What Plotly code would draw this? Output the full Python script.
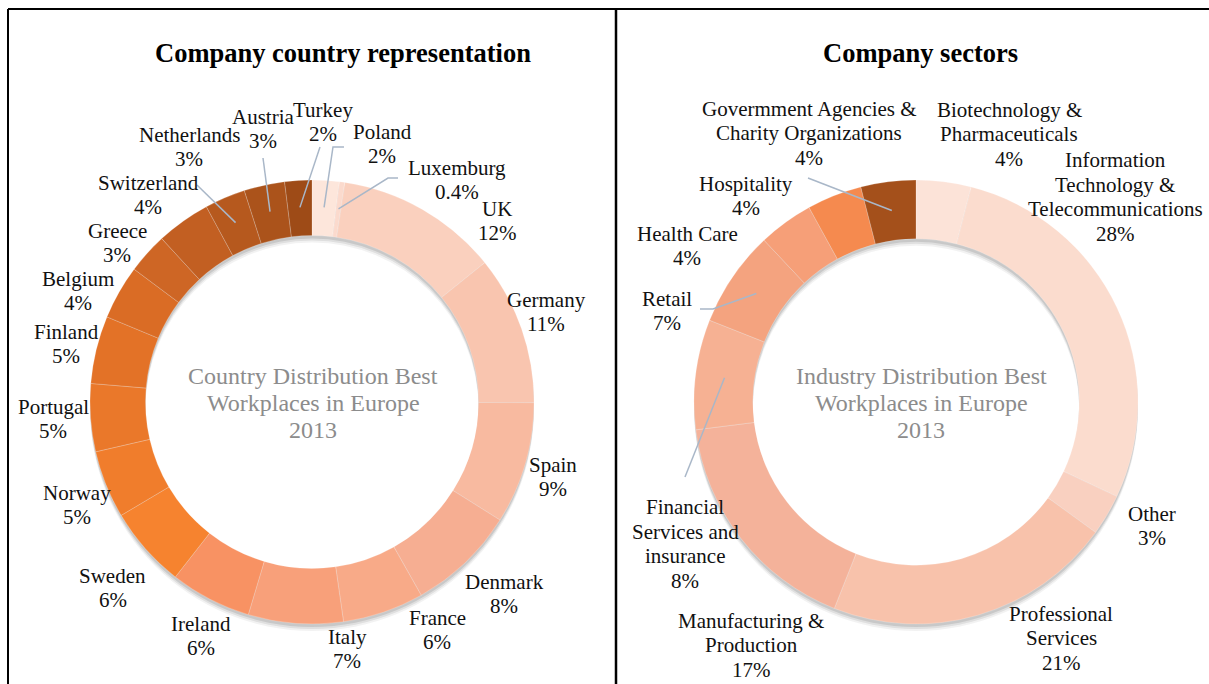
import math
import plotly.graph_objects as go

# ---- data -------------------------------------------------------------
countries = ["Poland", "Luxemburg", "UK", "Germany", "Spain", "Denmark", "France",
             "Italy", "Ireland", "Sweden", "Norway", "Portugal", "Finland", "Belgium",
             "Greece", "Switzerland", "Netherlands", "Austria", "Turkey"]
country_pct = [2, 0.4, 12, 11, 9, 8, 6, 7, 6, 6, 5, 5, 5, 4, 3, 4, 3, 3, 2]
country_pct_text = ["2%", "0.4%", "12%", "11%", "9%", "8%", "6%", "7%", "6%", "6%",
                    "5%", "5%", "5%", "4%", "3%", "4%", "3%", "3%", "2%"]

sectors = ["Biotechnology &<br>Pharmaceuticals",
           "Information<br>Technology &<br>Telecommunications",
           "Other",
           "Professional<br>Services",
           "Manufacturing &<br>Production",
           "Financial<br>Services and<br>insurance",
           "Retail",
           "Health Care",
           "Hospitality",
           "Govermment Agencies &<br>Charity Organizations"]
sector_pct = [4, 28, 3, 21, 17, 8, 7, 4, 4, 4]
sector_pct_text = ["4%", "28%", "3%", "21%", "17%", "8%", "7%", "4%", "4%", "4%"]

# ---- styles -----------------------------------------------------------
country_colors = ["#FDE6DB", "#FBDACD", "#FAD0BE", "#F9C5AF", "#F8BAA0", "#F6AE92",
                  "#F8AA88", "#F8A07A", "#F89263", "#F6832F", "#F07D2C", "#EA782A",
                  "#E37227", "#DA6C25", "#CE6625", "#C25F22", "#B6591E", "#AB531B",
                  "#9E4B17"]
sector_colors = ["#FCE3D8", "#FBDCCE", "#F9D0C0", "#F8C2AB", "#F4B29A", "#F6B193",
                 "#F4A37F", "#F69F78", "#F58A4F", "#A4501B"]

W, H = 1209, 684
R = 222
LEFT_C = (312, 402)
RIGHT_C = (916, 402)
SERIF = "Liberation Serif, Times New Roman, serif"
LEADER = "#A9B7C8"
LABEL_SIZE = 21
LABEL_STEP = 24.5


def px(x, y):
    return x / W, 1 - y / H


def domain(c, r, dy=0):
    cx, cy = c
    return dict(x=[(cx - r) / W, (cx + r) / W],
                y=[1 - (cy + dy + r) / H, 1 - (cy + dy - r) / H])


def mid_point(values, idx, center, radius):
    total = sum(values)
    start = sum(values[:idx]) / total
    frac = start + values[idx] / total / 2
    ang = 2 * math.pi * frac
    return center[0] + radius * math.sin(ang), center[1] - radius * math.cos(ang)


fig = go.Figure()

# soft drop shadow beneath each ring
for c, hole in [(LEFT_C, 0.75), (RIGHT_C, 0.735)]:
    for off, alpha in [(7, 0.05), (5, 0.08), (3, 0.10)]:
        fig.add_trace(go.Pie(values=[1], hole=hole, domain=domain(c, R, off),
                             marker=dict(colors=[f"rgba(0,0,0,{alpha})"]),
                             textinfo="none", hoverinfo="skip", sort=False,
                             showlegend=False))

fig.add_trace(go.Pie(labels=countries, values=country_pct, hole=0.75,
                     domain=domain(LEFT_C, R), sort=False, direction="clockwise",
                     rotation=0, textinfo="none", showlegend=False,
                     marker=dict(colors=country_colors,
                                 line=dict(width=0.6, color="rgba(255,255,255,0.35)"))))
fig.add_trace(go.Pie(labels=sectors, values=sector_pct, hole=0.735,
                     domain=domain(RIGHT_C, R), sort=False, direction="clockwise",
                     rotation=0, textinfo="none", showlegend=False,
                     marker=dict(colors=sector_colors,
                                 line=dict(width=0.6, color="rgba(255,255,255,0.35)"))))

annotations = []
shapes = []


def text_block(lines, cx, cy, step, size, color, bold=False):
    """Stack lines as separate annotations so the line pitch is fixed."""
    n = len(lines)
    for i, line in enumerate(lines):
        x, y = px(cx, cy + (i - (n - 1) / 2) * step)
        annotations.append(dict(x=x, y=y, xref="paper", yref="paper",
                                text=f"<b>{line}</b>" if bold else line,
                                showarrow=False, xanchor="center", yanchor="middle",
                                borderpad=0,
                                font=dict(family=SERIF, size=size, color=color)))


# label placement (pixel centres of each text block)
country_label_pos = {
    "Poland": (382, 144), "Luxemburg": (457, 180), "UK": (497, 221),
    "Germany": (546, 312), "Spain": (553, 477), "Denmark": (504, 594),
    "France": (437, 630), "Italy": (347, 649), "Ireland": (201, 636),
    "Sweden": (113, 588), "Norway": (77, 505), "Portugal": (53, 419),
    "Finland": (66, 344), "Belgium": (78, 291), "Greece": (117, 243),
    "Switzerland": (148, 195), "Netherlands": (189, 147), "Austria": (263, 129),
    "Turkey": (323, 122),
}
sector_label_pos = [(1009, 134), (1115, 197), (1152, 526), (1061, 638), (751, 645),
                    (685, 544), (667, 311), (687, 246), (746, 196), (809, 133)]

for name, pct in zip(countries, country_pct_text):
    cx, cy = country_label_pos[name]
    text_block([name, pct], cx, cy, LABEL_STEP, LABEL_SIZE, "#111111")

for i, (name, pct) in enumerate(zip(sectors, sector_pct_text)):
    cx, cy = sector_label_pos[i]
    text_block(name.split("<br>") + [pct], cx, cy, LABEL_STEP, LABEL_SIZE, "#111111")

# leader lines: label-side points, ending in the middle of the slice
country_leaders = {
    "Turkey": [(320, 147)],
    "Poland": [(344, 147), (333, 147)],
    "Luxemburg": [(398, 178), (388, 178)],
    "Austria": [(263, 158)],
    "Netherlands": [(197, 185)],
}
sector_leaders = {
    9: [(808, 178)],
    5: [(685, 477)],
    6: [(700, 309), (713, 309)],
}


def leader_path(points):
    coords = [px(*p) for p in points]
    d = "M " + " L ".join(f"{a:.5f},{b:.5f}" for a, b in coords)
    return dict(type="path", path=d, xref="paper", yref="paper",
                line=dict(color=LEADER, width=1.5))


for name, pts in country_leaders.items():
    idx = countries.index(name)
    end = mid_point(country_pct, idx, LEFT_C, 195)
    shapes.append(leader_path(pts + [end]))

for idx, pts in sector_leaders.items():
    end = mid_point(sector_pct, idx, RIGHT_C, 193)
    shapes.append(leader_path(pts + [end]))

# centre captions
text_block(["Country Distribution Best", "Workplaces in Europe", "2013"],
           313, 403, 27, 24, "#8C8C8C")
text_block(["Industry Distribution Best", "Workplaces in Europe", "2013"],
           921, 403, 27, 24, "#8C8C8C")

# panel titles
text_block(["Company country representation"], 343, 53, 0, 26.5, "#000000", bold=True)
text_block(["Company sectors"], 920, 53, 0, 26.5, "#000000", bold=True)

# table frame
frame = dict(color="#000000", width=2)
shapes += [
    dict(type="line", xref="paper", yref="paper", x0=8 / W, x1=1, y0=1 - 9 / H, y1=1 - 9 / H, line=frame),
    dict(type="line", xref="paper", yref="paper", x0=8 / W, x1=8 / W, y0=0, y1=1 - 9 / H, line=frame),
    dict(type="line", xref="paper", yref="paper", x0=616 / W, x1=616 / W, y0=0, y1=1 - 9 / H,
         line=dict(color="#000000", width=2.5)),
]

fig.update_layout(width=W, height=H, margin=dict(l=0, r=0, t=0, b=0),
                  paper_bgcolor="white", plot_bgcolor="white",
                  annotations=annotations, shapes=shapes, showlegend=False)

fig.write_html("out.html")
